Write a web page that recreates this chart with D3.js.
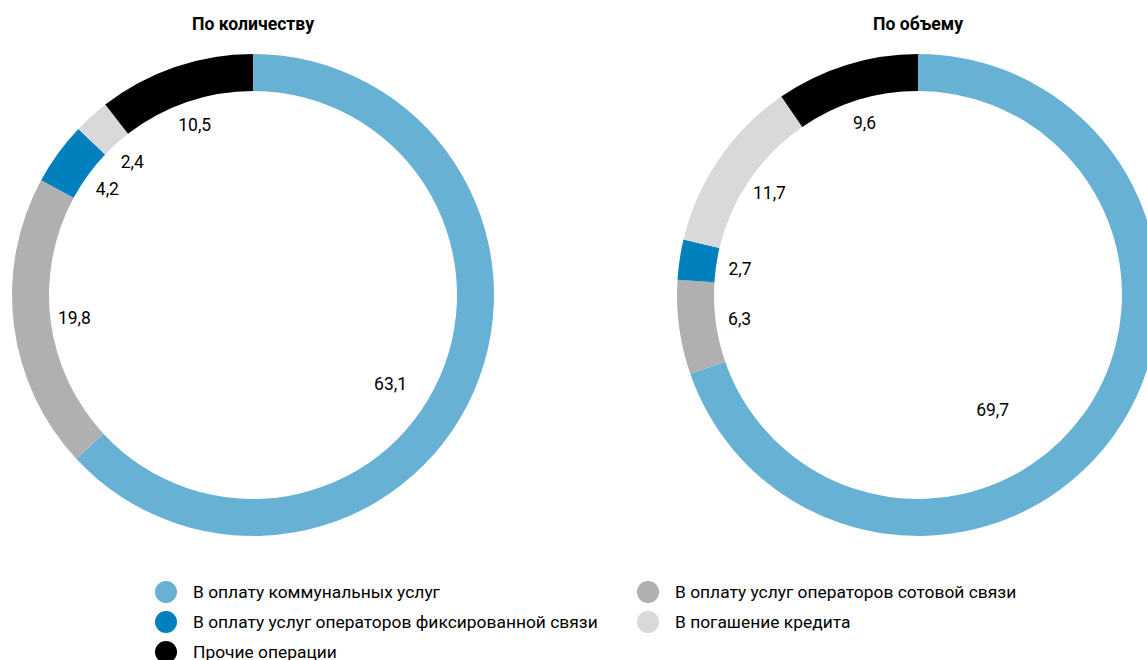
<!DOCTYPE html>
<html>
<head>
<meta charset="utf-8">
<script src="https://cdn.jsdelivr.net/npm/d3@7"></script>
<style>
  body { margin: 0; background: #fff; }
  svg { display: block; font-family: Roboto, "Noto Sans", sans-serif; }
</style>
</head>
<body>
<div class="chart-canvas"></div>
<script>
// categories, in the order the slices run clockwise from 12 o'clock
var categories = [
  "В оплату коммунальных услуг",
  "В оплату услуг операторов сотовой связи",
  "В оплату услуг операторов фиксированной связи",
  "В погашение кредита",
  "Прочие операции"
];
var colors = ["#67b1d5", "#b0b0b0", "#0080bd", "#d9d9d9", "#000000"];

var titles = ["По количеству", "По объему"];
var byCount = [63.1, 19.8, 4.2, 2.4, 10.5];
var byVolume = [69.7, 6.3, 2.7, 11.7, 9.6];

// legend layout: which category sits in which column/row
var legendOrder = [0, 2, 4, 1, 3];

var width = 1147, height = 660;
var outerR = 241, innerR = 204, labelR = 180;

var svg = d3.select(".chart-canvas")
  .append("svg")
  .attr("width", width)
  .attr("height", height);

var fmt = function (v) { return d3.format(".1f")(v).replace(".", ","); };

var pie = d3.pie().sort(null).value(function (d) { return d; });
var arc = d3.arc().innerRadius(innerR).outerRadius(outerR);

// the big slice label is set off-centre in the original
var charts = [
  { title: titles[0], values: byCount, cx: 253, cy: 295, bigAngle: 123, bigR: 164 },
  { title: titles[1], values: byVolume, cx: 918, cy: 295, bigAngle: 147, bigR: 137 }
];

charts.forEach(function (c) {
  var g = svg.append("g")
    .attr("transform", "translate(" + c.cx + "," + c.cy + ")");

  g.append("text")
    .attr("x", 0)
    .attr("y", -c.cy + 30)
    .attr("text-anchor", "middle")
    .attr("font-size", 17.6)
    .attr("font-weight", "bold")
    .text(c.title);

  var arcs = pie(c.values);

  g.selectAll("path")
    .data(arcs)
    .join("path")
    .attr("fill", function (d, i) { return colors[i]; })
    .attr("d", arc);

  g.selectAll("text.val")
    .data(arcs)
    .join("text")
    .attr("class", "val")
    .attr("text-anchor", "middle")
    .attr("dy", "0.35em")
    .attr("font-size", 17.5)
    .attr("transform", function (d, i) {
      var a = (d.startAngle + d.endAngle) / 2, r = labelR;
      if (i === 0) { a = c.bigAngle * Math.PI / 180; r = c.bigR; }
      return "translate(" + (Math.sin(a) * r) + "," + (-Math.cos(a) * r) + ")";
    })
    .text(function (d) { return fmt(d.data); });
});

// legend
var legend = svg.append("g");
var colX = d3.scaleOrdinal().domain([0, 1]).range([166, 648]);
var rowY = d3.scaleLinear().domain([0, 1]).range([592, 622]);

legendOrder.forEach(function (ci, k) {
  var col = k < 3 ? 0 : 1, row = k < 3 ? k : k - 3;
  var item = legend.append("g")
    .attr("transform", "translate(" + colX(col) + "," + rowY(row) + ")");
  item.append("circle")
    .attr("r", 11)
    .attr("fill", colors[ci]);
  item.append("text")
    .attr("x", 27)
    .attr("dy", "0.35em")
    .attr("font-size", 17.4)
    .text(categories[ci]);
});
</script>
</body>
</html>
